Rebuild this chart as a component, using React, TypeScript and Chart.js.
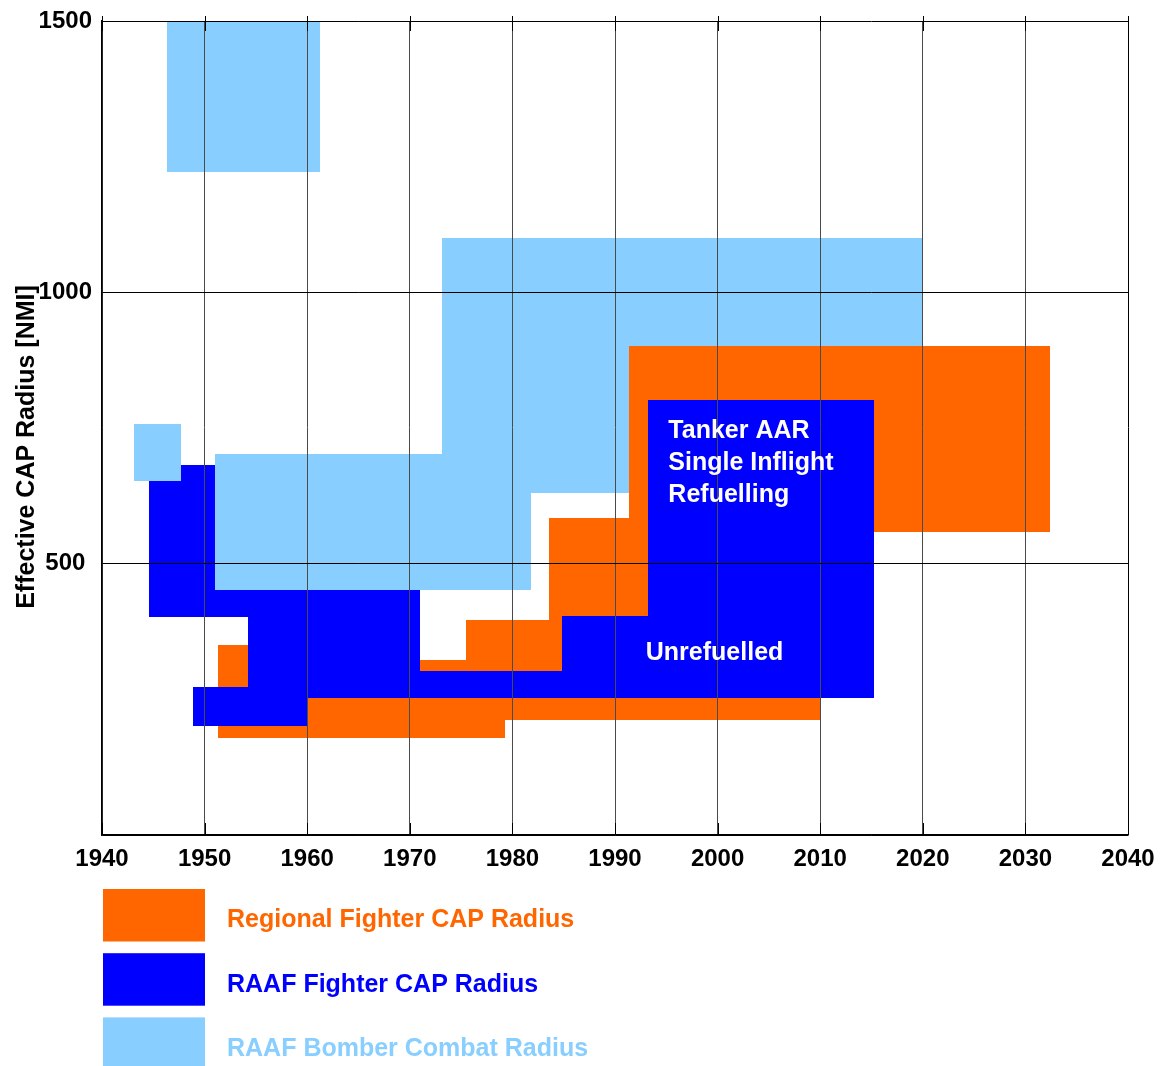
import React, { useEffect, useRef } from 'react';
import { Chart, registerables } from 'chart.js';

Chart.register(...registerables);

// ---- data -------------------------------------------------------------
// each block: [startYear, endYear, minRadius, maxRadius]  (radius in NMI)
const seriesNames = [
  'Regional Fighter CAP Radius',
  'RAAF Fighter CAP Radius',
  'RAAF Bomber Combat Radius',
];

const regionalFighter = [
  [1951.3, 1971.0, 178, 350],
  [1951.3, 1979.3, 178, 230],
  [1971.0, 2010.1, 212, 322],
  [1975.5, 2010.1, 212, 396],
  [1983.6, 2010.1, 212, 584],
  [1991.4, 2032.4, 558, 902],
];

const raafFighter = [
  [1944.6, 1955.0, 401, 682],
  [1948.9, 1960.0, 201, 273],
  [1954.2, 1971.0, 252, 453],
  [1954.2, 2015.2, 252, 303],
  [1984.8, 2015.2, 252, 404],
  [1993.2, 2015.2, 252, 802],
];

const raafBomber = [
  [1946.3, 1961.2, 1221, 1500],
  [1943.1, 1947.7, 653, 757],
  [1951.0, 1981.8, 451, 702],
  [1973.1, 2020.0, 902, 1101],
  [1973.1, 1991.4, 630, 1101],
];

const yearMin = 1940;
const yearMax = 2040;
const yearStep = 10;
const radiusMin = 0;
const radiusMax = 1500;
const radiusStep = 500;

const annotationTexts = ['Tanker AAR', 'Single Inflight', 'Refuelling', 'Unrefuelled'];
const annotationYears = [1995.2, 1995.2, 1995.2, 1993.0];
const annotationRadii = [744, 685, 627, 335];

const yAxisTitle = 'Effective CAP Radius [NMI]';

// ---- styles -----------------------------------------------------------
const seriesColors = ['#FF6600', '#0000FF', '#88CEFF'];
const FONT = '"Liberation Sans", Arial, Helvetica, sans-serif';

export default function App() {
  const ref = useRef<HTMLCanvasElement>(null);

  useEffect(() => {
    document.body.style.margin = '0';
    const canvas = ref.current;
    if (!canvas) return;

    const seriesBlocks = [regionalFighter, raafFighter, raafBomber];

    const blocksPlugin = {
      id: 'blocks',
      beforeDraw(chart: any) {
        const { ctx, chartArea, scales } = chart;
        const xs = scales.x;
        const ys = scales.y;
        ctx.save();
        ctx.fillStyle = '#ffffff';
        ctx.fillRect(0, 0, chart.width, chart.height);
        ctx.beginPath();
        ctx.rect(chartArea.left, chartArea.top, chartArea.right - chartArea.left, chartArea.bottom - chartArea.top);
        ctx.clip();
        seriesBlocks.forEach((blocks, i) => {
          ctx.fillStyle = seriesColors[i];
          blocks.forEach(([x0, x1, r0, r1]) => {
            const px0 = Math.round(xs.getPixelForValue(x0));
            const px1 = Math.round(xs.getPixelForValue(x1));
            const py0 = Math.round(ys.getPixelForValue(r1));
            const py1 = Math.round(ys.getPixelForValue(r0));
            ctx.fillRect(px0, py0, px1 - px0, py1 - py0);
          });
        });
        ctx.restore();
      },
      afterDraw(chart: any) {
        const { ctx, chartArea, scales } = chart;
        const xs = scales.x;
        const ys = scales.y;
        ctx.save();

        // small tick marks on top and bottom edges
        ctx.strokeStyle = '#000';
        ctx.lineWidth = 1;
        xs.ticks.forEach((t: any) => {
          const px = Math.round(xs.getPixelForValue(t.value)) + 0.5;
          ctx.beginPath();
          ctx.moveTo(px, chartArea.top - 5);
          ctx.lineTo(px, chartArea.top + 10);
          ctx.moveTo(px, chartArea.bottom - 12);
          ctx.lineTo(px, chartArea.bottom);
          ctx.stroke();
        });

        // annotations
        ctx.fillStyle = '#ffffff';
        ctx.font = `bold 25px ${FONT}`;
        ctx.textAlign = 'left';
        ctx.textBaseline = 'middle';
        annotationTexts.forEach((t, i) => {
          ctx.fillText(t, xs.getPixelForValue(annotationYears[i]), ys.getPixelForValue(annotationRadii[i]));
        });

        // y axis title
        ctx.save();
        ctx.translate(27, 447);
        ctx.rotate(-Math.PI / 2);
        ctx.fillStyle = '#000';
        ctx.font = `bold 25px ${FONT}`;
        ctx.textAlign = 'center';
        ctx.textBaseline = 'middle';
        ctx.fillText(yAxisTitle, 0, 0);
        ctx.restore();

        // legend
        const boxLeft = 103;
        const boxW = 102;
        const boxH = 52.5;
        const firstTop = 889;
        const rowGap = 64.2;
        ctx.font = `bold 25px ${FONT}`;
        ctx.textAlign = 'left';
        ctx.textBaseline = 'middle';
        seriesNames.forEach((name, i) => {
          const top = firstTop + i * rowGap;
          ctx.fillStyle = seriesColors[i];
          ctx.fillRect(boxLeft, top, boxW, boxH);
          ctx.fillText(name, 227, top + 31.5);
        });
        ctx.restore();
      },
    };

    const chart = new Chart(canvas, {
      type: 'scatter',
      data: {
        datasets: seriesNames.map((name, i) => ({
          label: name,
          data: [],
          backgroundColor: seriesColors[i],
        })),
      },
      options: {
        animation: false,
        responsive: false,
        events: [],
        layout: { padding: { top: 21, right: 32, bottom: 191, left: 0 } },
        plugins: {
          legend: { display: false },
          tooltip: { enabled: false },
        },
        scales: {
          x: {
            type: 'linear',
            min: yearMin,
            max: yearMax,
            afterFit: (s: any) => {
              s.height = 40;
              s.paddingLeft = 0;
              s.paddingRight = 0;
              s.paddingTop = 0;
              s.paddingBottom = 0;
            },
            ticks: {
              stepSize: yearStep,
              padding: 10,
              color: '#000',
              font: { family: FONT, size: 24, weight: 'bold' },
              callback: (v: any) => String(v),
              maxRotation: 0,
              autoSkip: false,
            },
            grid: {
              color: (c: any) => (c.tick && (c.tick.value === yearMax) ? '#000' : '#4a4a4a'),
              lineWidth: 1,
              drawTicks: false,
            },
            border: { color: '#000', width: 1.5 },
          },
          y: {
            type: 'linear',
            min: radiusMin,
            max: radiusMax,
            afterFit: (s: any) => {
              s.width = 102;
              s.paddingLeft = 0;
              s.paddingRight = 0;
              s.paddingTop = 0;
              s.paddingBottom = 0;
            },
            ticks: {
              stepSize: radiusStep,
              padding: 10,
              crossAlign: 'center',
              color: '#000',
              font: { family: FONT, size: 24, weight: 'bold' },
              callback: (v: any) => (v === radiusMin ? '' : String(v)),
            },
            grid: {
              color: '#000',
              lineWidth: 1,
              drawTicks: false,
            },
            border: { color: '#000', width: 1.5 },
          },
        },
      },
      plugins: [blocksPlugin],
    } as any);

    return () => chart.destroy();
  }, []);

  return (
    <canvas
      ref={ref}
      width={1160}
      height={1066}
      style={{ display: 'block', width: 1160, height: 1066 }}
    />
  );
}
